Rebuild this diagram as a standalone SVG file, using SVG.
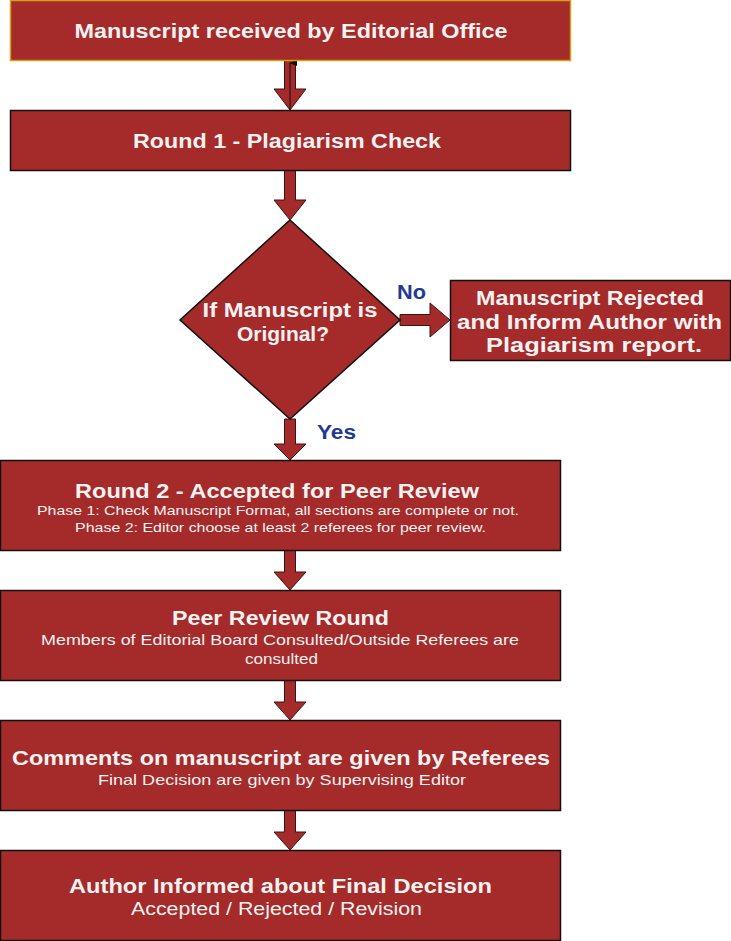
<svg xmlns="http://www.w3.org/2000/svg" width="731" height="941" viewBox="0 0 731 941">
<style>
.box{fill:#A52A2A;stroke:#111;stroke-width:1.5}
.arr{fill:#A52A2A;stroke:#3a1414;stroke-width:1}
.t{font-family:"Liberation Sans",Arial,sans-serif;font-weight:bold;font-size:20px;fill:#F7F2F2;text-anchor:middle}
.s{font-family:"Liberation Sans",Arial,sans-serif;font-size:14px;fill:#F7F2F2;text-anchor:middle}
.lbl{font-family:"Liberation Sans",Arial,sans-serif;font-weight:bold;font-size:20px;fill:#1F3A8F}
</style>
<defs>
<marker id="up" markerWidth="6" markerHeight="8" refX="3" refY="1" orient="auto-start-reverse" markerUnits="userSpaceOnUse" viewBox="0 0 6 8">
<path d="M0,8 L3,0 L6,8 Z" fill="#111"/>
</marker>
</defs>
<g id="connectors">
<polygon class="arr" points="284.5,60 295.5,60 295.5,89 306,89 290,110 274,89 284.5,89"/>
<line x1="290" y1="110" x2="290" y2="63" stroke="#111" stroke-width="1" marker-end="url(#up)"/>
<polygon class="arr" points="284.5,170 295.5,170 295.5,200 306,200 290,220 274,200 284.5,200"/>
<polygon class="arr" points="400,314.5 430,314.5 430,303 450,320 430,337 430,325.5 400,325.5"/>
<polygon class="arr" points="284.5,419 295.5,419 295.5,444 306,444 290,460 274,444 284.5,444"/>
<polygon class="arr" points="284.5,550 295.5,550 295.5,572 306,572 290,590 274,572 284.5,572"/>
<polygon class="arr" points="284.5,680 295.5,680 295.5,702 306,702 290,720 274,702 284.5,702"/>
<polygon class="arr" points="284.5,810 295.5,810 295.5,832 306,832 290,850 274,832 284.5,832"/>
<text class="lbl" x="397" y="299" textLength="29" lengthAdjust="spacingAndGlyphs">No</text>
<text class="lbl" x="317" y="439" textLength="39" lengthAdjust="spacingAndGlyphs">Yes</text>
</g>
<g id="n1">
<rect x="10.5" y="0.5" width="560" height="60" fill="#A52A2A" stroke="#D4A017" stroke-width="1.5"/>
<text class="t" x="291" y="38" textLength="433" lengthAdjust="spacingAndGlyphs">Manuscript received by Editorial Office</text>
</g>
<g id="n2">
<rect class="box" x="10.5" y="110.5" width="560" height="60"/>
<text class="t" x="287" y="148" textLength="308" lengthAdjust="spacingAndGlyphs">Round 1 - Plagiarism Check</text>
</g>
<g id="n3">
<polygon class="box" points="290,220 400,320 290,419 180,320"/>
<text class="t" x="290" y="317" textLength="175" lengthAdjust="spacingAndGlyphs">If Manuscript is</text>
<text class="t" x="283" y="341" textLength="92" lengthAdjust="spacingAndGlyphs">Original?</text>
</g>
<g id="n4">
<rect class="box" x="450.5" y="280.5" width="280" height="80"/>
<text class="t" x="590" y="305" textLength="228" lengthAdjust="spacingAndGlyphs">Manuscript Rejected</text>
<text class="t" x="589.5" y="329" textLength="265" lengthAdjust="spacingAndGlyphs">and Inform Author with</text>
<text class="t" x="594" y="352" textLength="216" lengthAdjust="spacingAndGlyphs">Plagiarism report.</text>
</g>
<g id="n5">
<rect class="box" x="0.5" y="460.5" width="560" height="90"/>
<text class="t" x="277" y="498" textLength="404" lengthAdjust="spacingAndGlyphs">Round 2 - Accepted for Peer Review</text>
<text class="s" x="278" y="515" font-size="13" style="font-size:13px" textLength="482" lengthAdjust="spacingAndGlyphs">Phase 1: Check Manuscript Format, all sections are complete or not.</text>
<text class="s" x="280.5" y="532" style="font-size:13px" textLength="411" lengthAdjust="spacingAndGlyphs">Phase 2: Editor choose at least 2 referees for peer review.</text>
</g>
<g id="n6">
<rect class="box" x="0.5" y="590.5" width="560" height="90"/>
<text class="t" x="280.5" y="625" textLength="217" lengthAdjust="spacingAndGlyphs">Peer Review Round</text>
<text class="s" x="280" y="644.5" style="font-size:15px" textLength="478" lengthAdjust="spacingAndGlyphs">Members of Editorial Board Consulted/Outside Referees are</text>
<text class="s" x="281.5" y="663.5" style="font-size:15px" textLength="73" lengthAdjust="spacingAndGlyphs">consulted</text>
</g>
<g id="n7">
<rect class="box" x="0.5" y="720.5" width="560" height="90"/>
<text class="t" x="281" y="765" textLength="538" lengthAdjust="spacingAndGlyphs">Comments on manuscript are given by Referees</text>
<text class="s" x="282" y="784.5" style="font-size:15px" textLength="368" lengthAdjust="spacingAndGlyphs">Final Decision are given by Supervising Editor</text>
</g>
<g id="n8">
<rect class="box" x="0.5" y="850.5" width="560" height="90"/>
<text class="t" x="280.5" y="893" textLength="423" lengthAdjust="spacingAndGlyphs">Author Informed about Final Decision</text>
<text class="s" x="276.5" y="914.5" style="font-size:18px" textLength="291" lengthAdjust="spacingAndGlyphs">Accepted / Rejected / Revision</text>
</g>
</svg>
